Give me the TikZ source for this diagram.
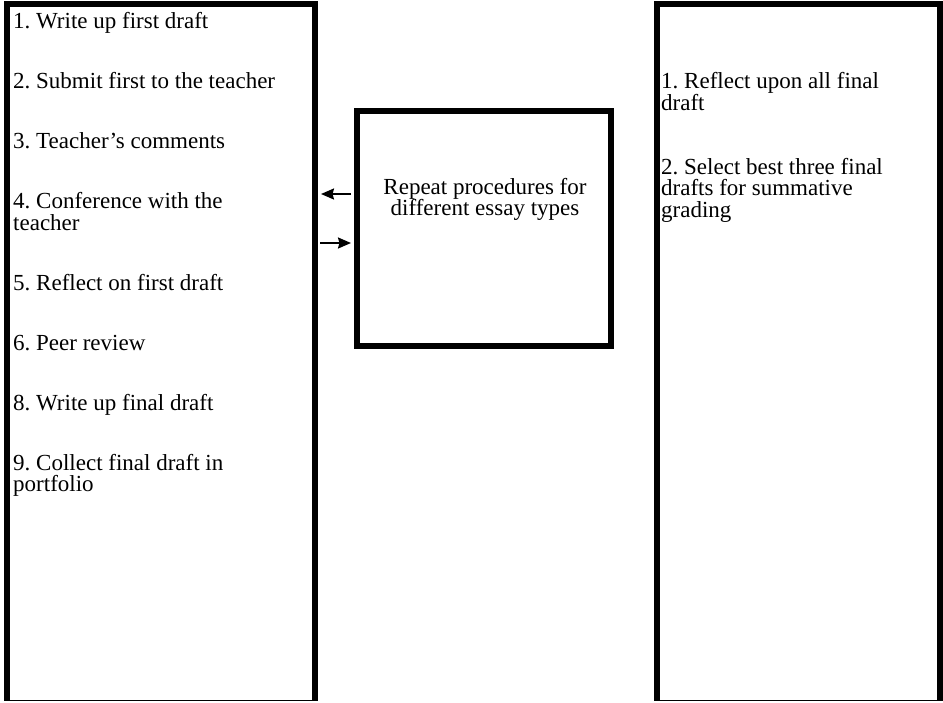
\documentclass[tikz,border=0pt]{standalone}
\usepackage{fontspec}
\setmainfont{Liberation Serif}
\usetikzlibrary{arrows.meta}
\frenchspacing
\begin{document}
\begin{tikzpicture}[x=1pt,y=-1pt,
  thickline/.style={line width=6pt},
  thinline/.style={line width=1pt},
  itemtext/.style={anchor=base west, inner sep=0pt, align=left, font=\frenchspacing\fontsize{23}{21.7}\selectfont},
  midtext/.style={anchor=base, inner sep=0pt, align=center, font=\frenchspacing\fontsize{23}{21.7}\selectfont},
  arr/.style={line width=2pt, -{Stealth[length=13pt,width=11pt,inset=1.5pt]}}]
\useasboundingbox[fill=white] (0,0) rectangle (943,702);
% left box
\draw[thickline] (7,700.5) -- (7,4) -- (314.5,4) -- (314.5,700.5);
\draw[thinline] (4,700.5) -- (317.5,700.5);
% right box
\draw[thickline] (657,700.5) -- (657,4) -- (940,4) -- (940,700.5);
\draw[thinline] (654,700.5) -- (943,700.5);
% middle box
\node[draw, line width=6pt, minimum width=254pt, minimum height=235pt, inner sep=0pt] (mid) at (484,228.5) {};
\node[midtext] (midtxt) at (485,215.7) {Repeat procedures for\\different essay types};
% left items (anchor = baseline of last line)
\node[itemtext] (l1) at (13,28.5) {1. Write up first draft};
\node[itemtext] (l2) at (13,88.5) {2. Submit first to the teacher};
\node[itemtext] (l3) at (13,148.5) {3. Teacher's comments};
\node[itemtext] (l4) at (13,230.2) {4. Conference with the\\teacher};
\node[itemtext] (l5) at (13,290.2) {5. Reflect on first draft};
\node[itemtext] (l6) at (13,350.2) {6. Peer review};
\node[itemtext] (l8) at (13,410.2) {8. Write up final draft};
\node[itemtext] (l9) at (13,491.9) {9. Collect final draft in\\portfolio};
% right items
\node[itemtext] (r1) at (661,110) {1. Reflect upon all final\\draft};
\node[itemtext] (r2) at (661,217.4) {2. Select best three final\\drafts for summative\\grading};
% arrows
\coordinate (a1s) at (351,194);
\coordinate (a1e) at (321,194);
\coordinate (a2s) at (320,243);
\coordinate (a2e) at (351,243);
\draw[arr] (a1s) -- (a1e);
\draw[arr] (a2s) -- (a2e);
\end{tikzpicture}
\end{document}
